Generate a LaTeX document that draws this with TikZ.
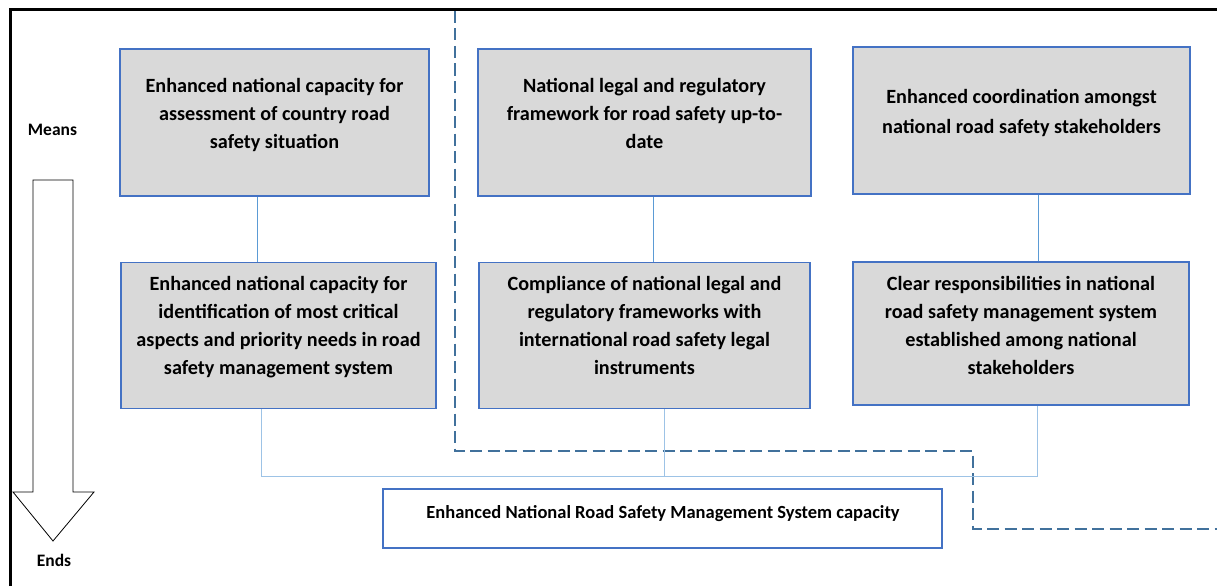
\documentclass[tikz,border=0pt]{standalone}
\usepackage{fontspec}
\setmainfont{Carlito}
\definecolor{boxblue}{RGB}{68,114,196}
\definecolor{boxfill}{RGB}{217,217,217}
\definecolor{linkblue}{RGB}{91,155,213}
\definecolor{lightlink}{RGB}{157,195,230}
\definecolor{dashblue}{RGB}{65,113,156}
\begin{document}
\begin{tikzpicture}[x=1pt,y=-1pt,
  gbox/.style={draw=boxblue, line width=1.4pt, fill=boxfill, rectangle, inner sep=0pt},
  wbox/.style={draw=boxblue, line width=1.6pt, fill=white, rectangle, inner sep=0pt},
  txt/.style={font=\bfseries\fontsize{20.2}{28}\selectfont, align=center, inner sep=0pt, anchor=north},
  lbl/.style={font=\bfseries\fontsize{17.5}{20}\selectfont, inner sep=0pt},
  link/.style={draw=linkblue, line width=0.8pt},
  lightln/.style={draw=lightlink, line width=1pt},
  bound/.style={draw=dashblue, line width=1.8pt, dash pattern=on 12pt off 5.5pt}
]
\useasboundingbox (0,0) rectangle (1217,586);
\fill[white] (0,0) rectangle (1217,586);
% frame
\draw[line width=3pt] (10,586) -- (10,9.5) -- (1218,9.5);
% dashed boundary
\draw[bound] (455,11) -- (455,451) -- (973,451) -- (973,529) -- (1218,529);
% top row boxes
\node[gbox, minimum width=309, minimum height=147] (A) at (274.5,122.5) {};
\node[gbox, minimum width=333, minimum height=147] (B) at (644.5,122.5) {};
\node[gbox, minimum width=337, minimum height=147] (C) at (1021.5,120.5) {};
% second row boxes
\node[gbox, minimum width=315, minimum height=146] (D) at (278.5,335.5) {};
\node[gbox, minimum width=331, minimum height=146] (E) at (644.5,335.5) {};
\node[gbox, minimum width=336, minimum height=143] (F) at (1021,333.5) {};
% bottom box
\node[wbox, minimum width=559, minimum height=59] (G) at (662.5,518.5) {};
% texts
\node[txt] (tA) at (274.5,78.5) {Enhanced national capacity for\\assessment of country road\\safety situation};
\node[txt] (tB) at (644.5,78.5) {National legal and regulatory\\framework for road safety up-to-\\date};
\node[txt, font=\bfseries\fontsize{20.2}{29.5}\selectfont] (tC) at (1021.5,89.5) {Enhanced coordination amongst\\national road safety stakeholders};
\node[txt] (tD) at (278.5,276.5) {Enhanced national capacity for\\identification of most critical\\aspects and priority needs in road\\safety management system};
\node[txt] (tE) at (644.5,276.5) {Compliance of national legal and\\regulatory frameworks with\\international road safety legal\\instruments};
\node[txt] (tF) at (1021,276.5) {Clear responsibilities in national\\road safety management system\\established among national\\stakeholders};
\node[font=\bfseries\fontsize{18.5}{20}\selectfont, inner sep=0pt, anchor=base] (tG) at (663,518) {Enhanced National Road Safety Management System capacity};
% vertical links between rows
\coordinate (a1) at ([xshift=-17.5pt]A.south);
\coordinate (b1) at ([xshift=8.5pt]B.south);
\coordinate (c1) at ([xshift=16.5pt]C.south);
\draw[link] (a1) -- (a1 |- D.north);
\draw[link] (b1) -- (b1 |- E.north);
\draw[link] (c1) -- (c1 |- F.north);
% links to the bottom
\coordinate (d1) at ([xshift=-17.5pt]D.south);
\coordinate (e1) at ([xshift=19.5pt]E.south);
\coordinate (f1) at ([xshift=16pt]F.south);
\coordinate (j) at (0,476);
\draw[lightln] (d1) -- (d1 |- j) -- (f1 |- j) -- (f1);
\draw[lightln] (e1) -- (e1 |- j);
% means / ends
\node[lbl] (means) at (52.5,130) {Means};
\node[lbl] (ends) at (54,560) {Ends};
\draw[line width=0.8pt, fill=white] (33,180) -- (73,180) -- (73,492) -- (94,492) -- (53,541) -- (13,492) -- (33,492) -- cycle;
\end{tikzpicture}
\end{document}
